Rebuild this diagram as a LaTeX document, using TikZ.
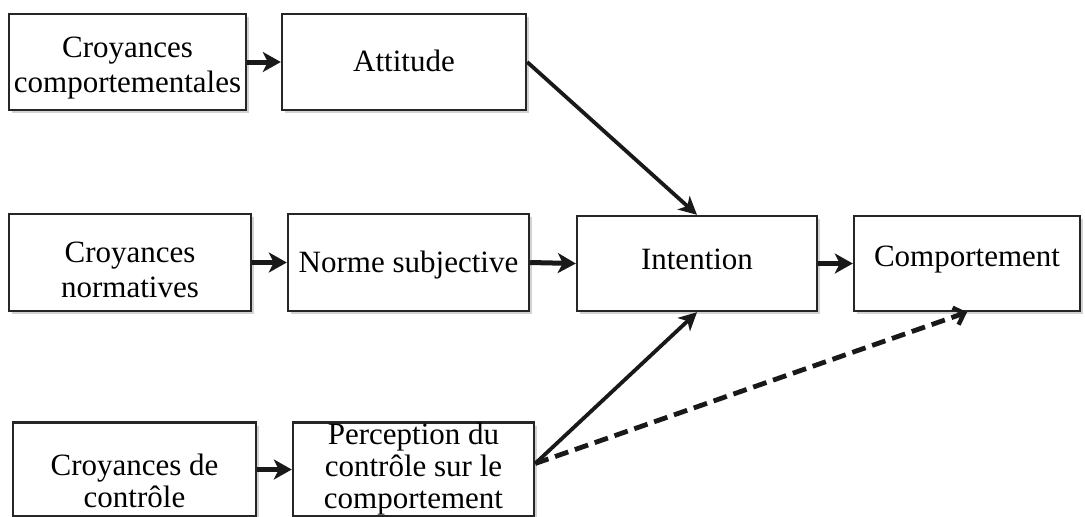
\documentclass[tikz,border=0pt]{standalone}
\usepackage{fontspec}
\setmainfont{Liberation Serif}
\usetikzlibrary{arrows.meta,shadows}
\begin{document}
\begin{tikzpicture}[x=0.5pt,y=-0.5pt,
  box/.style={draw=black!85, line width=1.2pt, fill=white, inner sep=0pt,
    drop shadow={shadow xshift=1.5pt, shadow yshift=-1.5pt, fill=black!35}},
  txt/.style={inner sep=0pt, align=center, font=\fontsize{15.5}{17.5}\selectfont},
  txtb/.style={inner sep=0pt, align=center, font=\fontsize{15.5}{16.2}\selectfont},
  arr/.style={line width=2.5pt, black!90, -{Stealth[length=9pt,width=10pt,inset=2.5pt]}},
  diag/.style={line width=1.9pt, black!90, -{Stealth[length=9pt,width=9pt,inset=2.5pt]}},
  dsh/.style={line width=2.4pt, black!90, dash pattern=on 7pt off 3.5pt,
    -{Straight Barb[length=4.5pt,width=9pt,line width=2.2pt]}}]
\useasboundingbox (0,0) rectangle (1085,516);

% boxes
\node[box, minimum width=118.5pt, minimum height=48pt] (cc) at (127.5,62) {};
\node[box, minimum width=122pt, minimum height=48pt] (att) at (404,62) {};
\node[box, minimum width=121pt, minimum height=48.5pt] (cn) at (130,262.5) {};
\node[box, minimum width=120.5pt, minimum height=48.5pt] (ns) at (408.5,262.5) {};
\node[box, minimum width=120pt, minimum height=47.5pt] (int) at (697,263.5) {};
\node[box, minimum width=113pt, minimum height=47.5pt] (comp) at (967,263.5) {};
\node[box, minimum width=121.5pt, minimum height=47pt] (ccb) at (134.5,469.5) {};
\node[box, minimum width=120.5pt, minimum height=47pt] (pc) at (413.5,469.5) {};

% texts
\node[txt] (cct) at (127.5,68) {Croyances\\comportementales};
\node[txt] (attt) at (404,61) {Attitude};
\node[txt] (cnt) at (130,270) {Croyances\\normatives};
\node[txt] (nst) at (408.5,265) {Norme subjective};
\node[txt] (intt) at (697,259) {Intention};
\node[txt] (compt) at (967,260) {Comportement};
\node[txtb] (ccbt) at (134.5,481) {Croyances de\\contrôle};
\node[txtb] (pct) at (413.5,469) {Perception du\\contrôle sur le\\comportement};

% connectors
\draw[arr] (cc.east) -- (att.west);
\draw[arr] (cn.east) -- (ns.west);
\draw[arr] (ns.east) -- (int.west);
\draw[arr] (int.east) -- (comp.west);
\draw[arr] (ccb.east) -- (pc.west);
\draw[diag] (att.east) -- (int.north);
\draw[diag] ([yshift=3pt]pc.east) -- (int.south);
\draw[dsh] ([yshift=3pt]pc.east) -- (comp.south);
\end{tikzpicture}
\end{document}
